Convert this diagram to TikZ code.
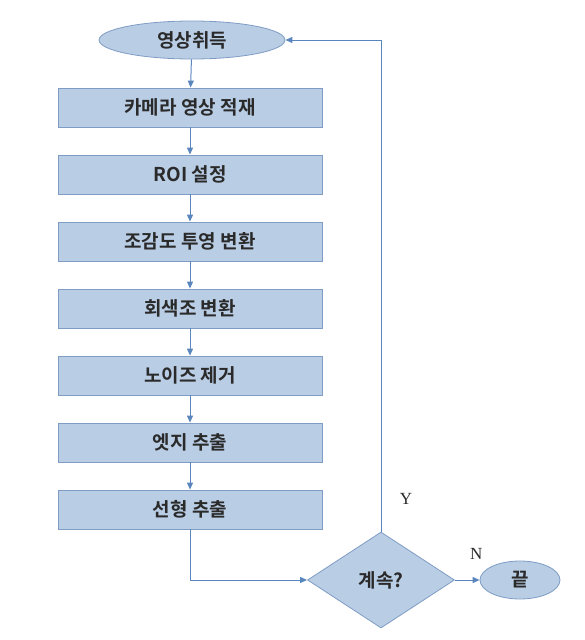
\documentclass[tikz,border=0pt]{standalone}
\usepackage{fontspec}
\setmainfont{Liberation Serif}
\newfontfamily\kr{Noto Sans CJK KR Bold}
\usetikzlibrary{shapes.geometric,arrows.meta}

\definecolor{boxfill}{HTML}{B9CDE5}
\definecolor{boxline}{HTML}{7F9CC4}
\definecolor{flowline}{HTML}{5A86BE}
\definecolor{boxtext}{HTML}{2A2A2A}

\tikzstyle{stepbox} = [draw=boxline,fill=boxfill,rectangle,minimum width=264pt,minimum height=39pt,font=\kr\fontsize{19}{21}\selectfont,text=boxtext,line width=0.8pt]
\tikzstyle{terminal} = [draw=boxline,fill=boxfill,ellipse,minimum height=38pt,inner sep=0pt,font=\kr\fontsize{19}{21}\selectfont,text=boxtext,line width=0.8pt]
\tikzstyle{decision} = [draw=boxline,fill=boxfill,diamond,minimum width=147pt,minimum height=96pt,inner sep=0pt,aspect=1.5,font=\kr\fontsize{19}{21}\selectfont,text=boxtext,line width=0.8pt]
\tikzstyle{flow} = [draw=flowline,line width=1pt,-{Triangle[length=7pt,width=6pt]}]
\tikzstyle{answer} = [font=\fontsize{17}{19}\selectfont,text=boxtext]

\begin{document}
\begin{tikzpicture}[x=1pt,y=-1pt,node distance=67pt]
	\useasboundingbox (0,0) rectangle (584,640);
	\node (start) [terminal,minimum width=186pt] at (192,40) {영상취득};
	\node (load) [stepbox] at (190,107.5) {카메라 영상 적재};
	\node (roi) [stepbox,below of=load] {ROI 설정};
	\node (bird) [stepbox,below of=roi] {조감도 투영 변환};
	\node (gray) [stepbox,below of=bird] {회색조 변환};
	\node (noise) [stepbox,below of=gray] {노이즈 제거};
	\node (edge) [stepbox,below of=noise] {엣지 추출};
	\node (line) [stepbox,below of=edge] {선형 추출};
	\node (cont) [decision] at (381,580) {계속?};
	\node (stop) [terminal,minimum width=80pt,right of=cont,node distance=139pt] {끝};
	\draw [flow] (start) -- (load);
	\draw [flow] (load) -- (roi);
	\draw [flow] (roi) -- (bird);
	\draw [flow] (bird) -- (gray);
	\draw [flow] (gray) -- (noise);
	\draw [flow] (noise) -- (edge);
	\draw [flow] (edge) -- (line);
	\draw [flow] (line.south) |- (cont.west);
	\draw [flow] (cont.east) -- (stop.west) node [answer,midway,above=17pt,xshift=9pt] {N};
	\draw [flow] (cont.north) |- (start.east) node [answer,pos=0.033,right=15pt] {Y};
\end{tikzpicture}
\end{document}
